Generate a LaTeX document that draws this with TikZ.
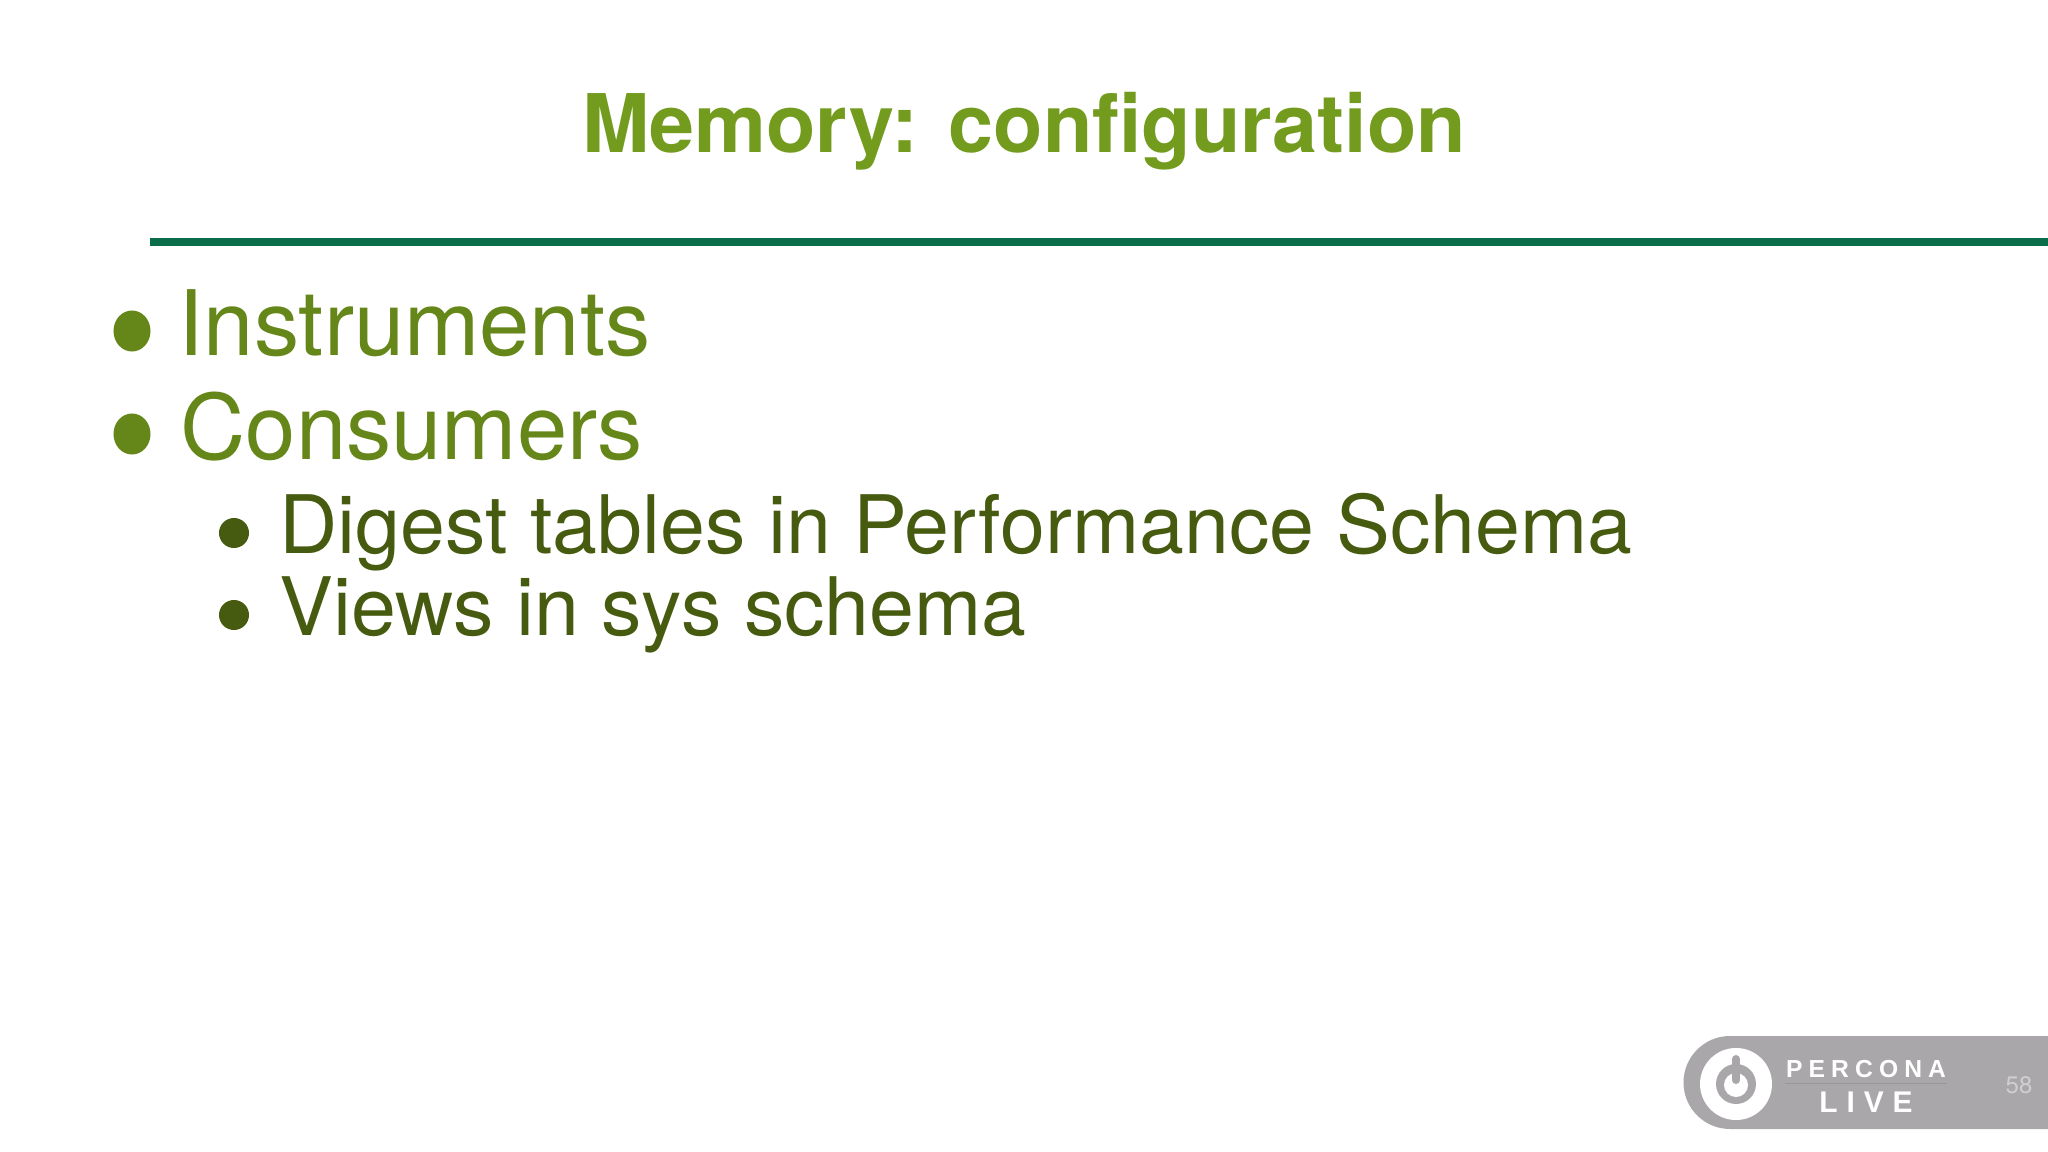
\documentclass[tikz,border=0pt]{standalone}
\usepackage{fontspec}
\setmainfont{TeX Gyre Heros}
\newfontfamily\logofont[LetterSpace=25]{Liberation Sans}
\newfontfamily\livefont[LetterSpace=30]{Liberation Sans}
\usepackage{tikz}
\usetikzlibrary{shapes.geometric}

\definecolor{titlegreen}{HTML}{739C1E}
\definecolor{rulegreen}{HTML}{0B6E4A}
\definecolor{topgreen}{HTML}{658618}
\definecolor{subgreen}{HTML}{465B0F}
\definecolor{logogrey}{HTML}{A9A7AA}

\tikzset{
    toptext/.style={anchor=base west,inner sep=0pt,text=topgreen,font=\fontsize{25.7}{30}\selectfont},
    subtext/.style={anchor=base west,inner sep=0pt,text=subgreen,font=\fontsize{22.95}{27}\selectfont},
    topdot/.style={ellipse,fill=topgreen,inner sep=0pt,minimum width=0.37cm,minimum height=0.41cm},
    subdot/.style={circle,fill=subgreen,inner sep=0pt,minimum size=0.30cm},
    logotext/.style={anchor=base,inner sep=0pt,text=white}
}

\begin{document}
\begin{tikzpicture}[x=0.01cm,y=-0.01cm]
    \useasboundingbox[fill=white] (0,0) rectangle (2048,1152);

    \node[anchor=base,inner sep=0pt,text=titlegreen,font=\bfseries\fontsize{23}{27}\selectfont] (title) at (1024,153) {Memory: configuration};
    \fill[rulegreen] (149.5,238) rectangle (2048,246);

    \node[topdot] (dotA) at (132,331) {};
    \node[toptext] (instruments) at (178,356) {Instruments};
    \node[topdot] (dotB) at (132,434) {};
    \node[toptext] (consumers) at (180,460) {Consumers};
    \node[subdot] (dotC) at (234,533) {};
    \node[subtext] (digest) at (279,554) {Digest tables in Performance Schema};
    \node[subdot] (dotD) at (234,615) {};
    \node[subtext] (views) at (279,636) {Views in sys schema};

    % logo
    \fill[logogrey] (2048,1036) -- (1730,1036) arc[start angle=-90,end angle=-270,radius=46.5] -- (2048,1129) -- cycle;
    \fill[white] (1736,1084) circle[radius=36];
    \fill[logogrey] (1736,1084) circle[radius=20];
    \fill[white] (1736,1085) circle[radius=12];
    \draw[logogrey,line width=0.08cm,line cap=round] (1736,1059) -- (1736,1080);
    \node[logotext,font=\logofont\bfseries\fontsize{7}{8}\selectfont] (percona) at (1866,1077) {PERCONA};
    \draw[logogrey!90!black,line width=0.01cm] (1785,1083) -- (1947,1083);
    \node[logotext,font=\livefont\bfseries\fontsize{8.5}{10}\selectfont] (live) at (1866,1112) {LIVE};
    \node[logotext,text=white!45!logogrey,font=\fontsize{6.8}{8}\selectfont] (page) at (2019,1093) {58};
\end{tikzpicture}
\end{document}
